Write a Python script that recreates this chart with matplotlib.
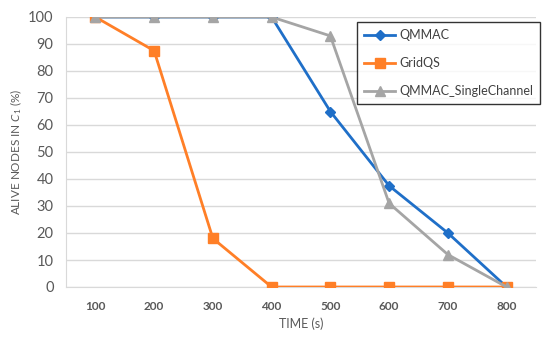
import matplotlib
matplotlib.use("Agg")
import matplotlib.pyplot as plt

plt.rcParams['font.family'] = ['Lato', 'DejaVu Sans']
plt.rcParams['mathtext.fontset'] = 'custom'
plt.rcParams['mathtext.it'] = 'Lato:italic'
plt.rcParams['mathtext.rm'] = 'Lato'

times = ['100', '200', '300', '400', '500', '600', '700', '800']
qmmac = [100, 100, 100, 100, 65, 37.5, 20, 0]
gridqs = [100, 87.5, 18, 0, 0, 0, 0, 0]
qmmac_single = [100, 100, 100, 100, 93, 31, 12, 0]

fig = plt.figure(figsize=(5.5, 3.39), dpi=100)
ax = fig.add_axes([66/550, 1-287/339, (536-66)/550, (287-17)/339])

x = list(range(len(times)))
ax.plot(x, qmmac, color='#1F6FC8', lw=2, marker='D', ms=5, label='QMMAC', zorder=3)
ax.plot(x, gridqs, color='#FF7F27', lw=2, marker='s', ms=7, label='GridQS', zorder=4)
ax.plot(x, qmmac_single, color='#A5A5A5', lw=2, marker='^', ms=7, label='QMMAC_SingleChannel', zorder=5)

ax.set_xlim(-0.5, len(times)-0.5)
ax.set_ylim(0, 100)
ax.set_yticks(range(0, 101, 10))
ax.set_xticks(x)
ax.set_xticklabels(times)
ax.grid(axis='y', color='#D9D9D9', lw=1)
ax.set_axisbelow(True)
for s in ['top', 'right']:
    ax.spines[s].set_visible(False)
for s in ['left', 'bottom']:
    ax.spines[s].set_color('#D9D9D9')
ax.tick_params(length=0, colors='#595959')
ax.tick_params(axis='y', labelsize=10.5, pad=9)
ax.tick_params(axis='x', labelsize=8.5, pad=10)
for lab in ax.get_xticklabels():
    lab.set_fontweight('bold')

ax.set_xlabel('TIME (s)', fontsize=9, color='#595959', labelpad=4)
ax.set_ylabel(r'ALIVE NODES IN $C_1$ (%)', fontsize=8.5, color='#595959', labelpad=3)

leg = ax.legend(loc='upper left', bbox_to_anchor=(357/550, 1-22/339), bbox_transform=fig.transFigure,
                frameon=True, fancybox=False, edgecolor='black', fontsize=9, handlelength=2.5,
                handletextpad=0.3, labelspacing=1.3, borderpad=0.55, borderaxespad=0)
leg.get_frame().set_linewidth(1)
for t in leg.get_texts():
    t.set_color('#404040')

fig.savefig('out.png', dpi=100)
